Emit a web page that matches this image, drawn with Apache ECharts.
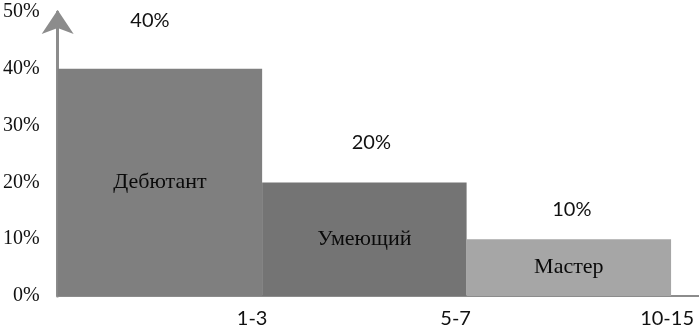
<!DOCTYPE html>
<html>
<head>
<meta charset="utf-8">
<script src="https://cdn.jsdelivr.net/npm/echarts@6/dist/echarts.min.js"></script>
<style>
html,body{margin:0;padding:0;background:#fff;}
#chart{width:699px;height:333px;}
</style>
</head>
<body>
<div id="chart"></div>
<script>
// ---- data ----
const categories = ['Дебютант', 'Умеющий', 'Мастер'];
const values = [40, 20, 10];
const xTickLabels = ['1-3', '5-7', '10-15'];
const yMin = 0, yMax = 50, yStep = 10;

// ---- styles ----
const barColors = ['#7f7f7f', '#747474', '#a6a6a6'];
const topLabelLift = [48, 40, 30];
const topLabelShift = [-10, 7, 3];
const xLabelShift = [-10, -11, -4];

const chart = echarts.init(document.getElementById('chart'));

const rich = {};
xTickLabels.forEach((t, i) => {
  const s = xLabelShift[i];
  rich['r' + i] = {
    fontFamily: 'Lato', fontSize: 20, color: '#111',
    padding: s < 0 ? [0, -2 * s, 0, 0] : [0, 0, 0, 2 * s]
  };
});

chart.setOption({
  animation: false,
  grid: { left: 56, right: 0, top: 12, bottom: 37 },
  xAxis: {
    type: 'value', min: 0, max: 643 / 205, interval: 1,
    splitLine: { show: false },
    axisTick: { show: false },
    axisLine: { show: true, onZero: false, lineStyle: { color: '#8c8c8c', width: 2 } },
    axisLabel: {
      margin: 13, showMaxLabel: false, showMinLabel: false,
      formatter: function (v) {
        const i = Math.round(v) - 1;
        if (i < 0 || i >= xTickLabels.length) return '';
        return '{r' + i + '|' + xTickLabels[i] + '}';
      },
      rich: rich
    }
  },
  yAxis: {
    type: 'value', min: yMin, max: yMax, interval: yStep,
    splitLine: { show: false },
    axisTick: { show: false },
    axisLine: {
      show: true, symbol: ['none', 'arrow'], symbolSize: [24, 24], symbolOffset: [0, 2],
      lineStyle: { color: '#8c8c8c', width: 3 }
    },
    axisLabel: {
      margin: 18, formatter: '{value}%',
      fontFamily: 'Liberation Serif', fontSize: 20, color: '#111'
    }
  },
  series: [{
    type: 'custom',
    data: values.map((v, i) => [i, v]),
    renderItem: function (params, api) {
      const i = api.value(0), v = api.value(1);
      const p0 = api.coord([i, 0]);
      const p1 = api.coord([i + 1, v]);
      const cx = (p0[0] + p1[0]) / 2;
      return {
        type: 'group',
        children: [
          { type: 'rect', shape: { x: p0[0], y: p1[1], width: p1[0] - p0[0], height: p0[1] - p1[1] },
            style: { fill: barColors[i] } },
          { type: 'text', x: cx, y: (p0[1] + p1[1]) / 2,
            style: { text: categories[i], font: '22px "Liberation Serif"', fill: '#0a0a0a', align: 'center', verticalAlign: 'middle' } },
          { type: 'text', x: cx + topLabelShift[i], y: p1[1] - topLabelLift[i],
            style: { text: v + '%', font: '20px Lato', fill: '#111', align: 'center', verticalAlign: 'middle' } }
        ]
      };
    },
    z: 1
  }]
});
</script>
</body>
</html>
